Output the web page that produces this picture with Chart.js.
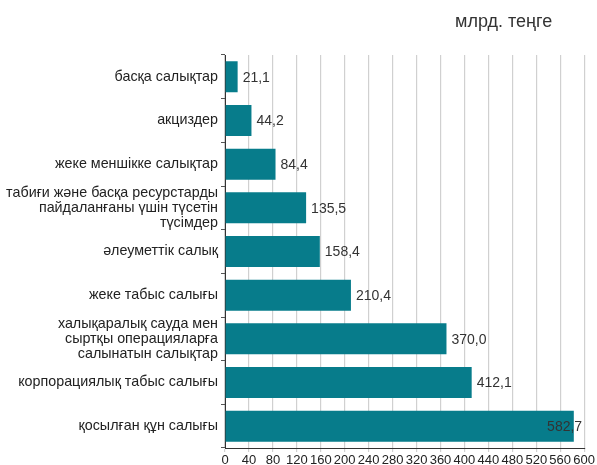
<!DOCTYPE html>
<html>
<head>
<meta charset="utf-8">
<script src="https://cdn.jsdelivr.net/npm/chart.js@4"></script>
<style>
  body { margin: 0; background: #fff; }
  #wrap { width: 597px; height: 465px; }
</style>
</head>
<body>
<div id="wrap"><canvas id="getChart"></canvas></div>
<script>
var categories = [
    "басқа салықтар",
    "акциздер",
    "жеке меншікке салықтар",
    ["табиғи және басқа ресурстарды", "пайдаланғаны үшін түсетін", "түсімдер"],
    "әлеуметтік салық",
    "жеке табыс салығы",
    ["халықаралық сауда мен", "сыртқы операцияларға", "салынатын салықтар"],
    "корпорациялық табыс салығы",
    "қосылған құн салығы"
];
var values = [21.1, 44.2, 84.4, 135.5, 158.4, 210.4, 370.0, 412.1, 582.7];
var unitTitle = "млрд. теңге";

var font = "'Liberation Sans', Arial, sans-serif";

// подписи значений справа от столбцов
var valueLabels = {
    id: "valueLabels",
    afterDatasetsDraw: function (chart) {
        var ctx = chart.ctx;
        var meta = chart.getDatasetMeta(0);
        ctx.save();
        ctx.font = "14px " + font;
        ctx.fillStyle = "#333";
        ctx.textBaseline = "middle";
        meta.data.forEach(function (bar, i) {
            var txt = values[i].toFixed(1).replace(".", ",");
            var w = ctx.measureText(txt).width;
            var x = Math.min(bar.x + 5, chart.chartArea.right - w - 2);
            ctx.fillText(txt, x, bar.y + 1);
        });
        // заголовок единиц
        ctx.font = "18px " + font;
        ctx.textBaseline = "alphabetic";
        ctx.fillText(unitTitle, 455, 27);
        ctx.restore();
    }
};

var ctx = document.getElementById("getChart");
var chart = new Chart(ctx, {
    type: "bar",
    data: {
        labels: categories,
        datasets: [{
            data: values,
            backgroundColor: "#077c8b",
            barPercentage: 0.71,
            categoryPercentage: 1
        }]
    },
    options: {
        indexAxis: "y",
        responsive: true,
        maintainAspectRatio: false,
        animation: false,
        layout: { padding: { top: 55, right: 2, left: 0, bottom: -4 } },
        plugins: {
            legend: { display: false },
            tooltip: { enabled: false }
        },
        scales: {
            x: {
                min: 0,
                max: 600,
                grid: { color: "#d0d0d0", tickLength: 4, lineWidth: 1.2 },
                border: { color: "#333", width: 1 },
                ticks: {
                    stepSize: 40,
                    autoSkip: false,
                    maxRotation: 0,
                    padding: 2,
                    color: "#222",
                    font: { family: font, size: 13, lineHeight: 1 }
                }
            },
            y: {
                grid: { drawOnChartArea: false, tickLength: 4, color: "#555" },
                border: { color: "#333", width: 1 },
                afterFit: function (scale) { scale.width = 225; },
                ticks: {
                    autoSkip: false,
                    padding: 3,
                    color: "#222",
                    font: { family: font, size: 14.3, lineHeight: 1.05 }
                }
            }
        }
    },
    plugins: [valueLabels]
});
</script>
</body>
</html>
